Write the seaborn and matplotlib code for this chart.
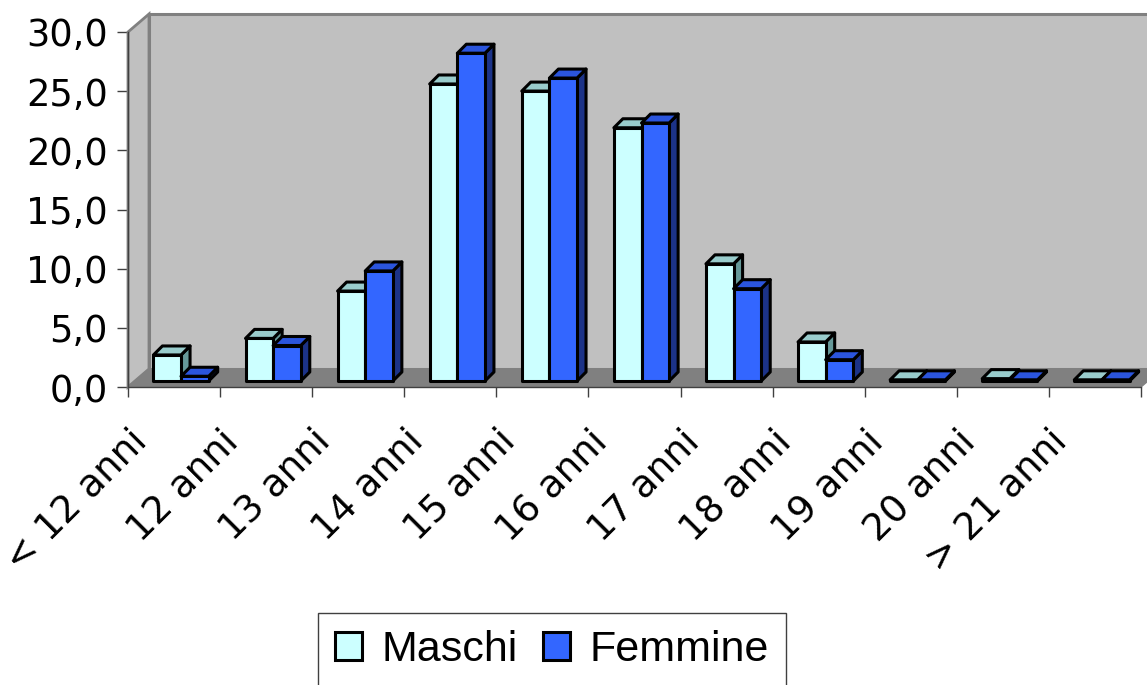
import pandas as pd
import matplotlib.pyplot as plt
import matplotlib.transforms as mtransforms
from matplotlib.patches import Polygon, Rectangle
from matplotlib.ticker import FixedLocator
import seaborn as sns

# Dati (percentuali per fascia di età)
categorie = ["< 12 anni", "12 anni", "13 anni", "14 anni", "15 anni", "16 anni",
             "17 anni", "18 anni", "19 anni", "20 anni", "> 21 anni"]
maschi = [2.2, 3.6, 7.6, 25.1, 24.5, 21.4, 9.9, 3.3, 0.1, 0.2, 0.1]
femmine = [0.4, 3.0, 9.3, 27.7, 25.6, 21.8, 7.8, 1.8, 0.1, 0.1, 0.1]
serie = ["Maschi", "Femmine"]
y_ticks = [0, 5, 10, 15, 20, 25, 30]

df = pd.DataFrame({
    "eta": categorie * 2,
    "sesso": ["Maschi"] * len(maschi) + ["Femmine"] * len(femmine),
    "valore": maschi + femmine,
})

colori_fronte = {"Maschi": "#CCFFFF", "Femmine": "#3366FF"}
colori_top = {"Maschi": "#99CCCC", "Femmine": "#2B55DD"}
colori_lato = {"Maschi": "#669999", "Femmine": "#1C3388"}

sns.set_theme(style="white")
plt.rcParams['font.family'] = ['Liberation Sans', 'DejaVu Sans']
plt.rcParams['text.color'] = 'black'
plt.rcParams['xtick.color'] = 'black'
plt.rcParams['ytick.color'] = 'black'

W, H = 1147, 685
fig = plt.figure(figsize=(W / 100, H / 100), dpi=100)
ax = fig.add_axes([128 / W, (H - 387) / H, (1141 - 128) / W, (387 - 32) / H])
ax.patch.set_visible(False)

sns.barplot(data=df, x="eta", y="valore", hue="sesso", order=categorie,
            hue_order=serie, palette=colori_fronte, saturation=1, width=0.6,
            edgecolor="black", linewidth=2.2, ax=ax)

ax.set_xlim(-0.5, len(categorie) - 0.5)
ax.set_ylim(0, 30)

# profondità "3D" in pixel
PX = 1 / 100
wall_dx, wall_dy = 21, 18
bar_sx, bar_sy = 7, 6
bar_dx, bar_dy = 9, 9
ident = mtransforms.IdentityTransform()


def to_px(x, y, ox=0, oy=0):
    X, Y = ax.transData.transform((x, y))
    return (X + ox, Y + oy)


# parete di fondo, parete laterale e pavimento
x0, x1 = -0.5, len(categorie) - 0.5
back = Rectangle((x0, 0), x1 - x0 + 1, 30, facecolor="#C0C0C0", edgecolor="#808080",
                 linewidth=2.2, zorder=0.5, clip_on=False,
                 transform=ax.transData + mtransforms.ScaledTranslation(
                     wall_dx * PX, wall_dy * PX, fig.dpi_scale_trans))
ax.add_patch(back)
side = Polygon([to_px(x0, 0), to_px(x0, 30), to_px(x0, 30, wall_dx, wall_dy),
                to_px(x0, 0, wall_dx, wall_dy)], closed=True, facecolor="#C0C0C0",
               edgecolor="#808080", linewidth=2, zorder=0.6, clip_on=False, transform=ident)
ax.add_patch(side)
floor = Polygon([to_px(x0, 0), to_px(x1, 0), to_px(x1, 0, wall_dx, wall_dy),
                 to_px(x0, 0, wall_dx, wall_dy)], closed=True, facecolor="#808080",
                edgecolor="#808080", linewidth=1, zorder=0.7, clip_on=False, transform=ident)
ax.add_patch(floor)

# barre: faccia frontale spostata + facce laterale e superiore
bars = list(ax.patches[:2 * len(categorie)])
bars = [b for b in bars if isinstance(b, Rectangle) and b.get_width() > 0]
bars.sort(key=lambda b: b.get_x())
shift = mtransforms.ScaledTranslation(bar_sx * PX, bar_sy * PX, fig.dpi_scale_trans)
for i, b in enumerate(bars):
    bx0, bw, bh = b.get_x(), b.get_width(), b.get_height()
    bx1 = bx0 + bw
    key = "Maschi" if b.get_facecolor()[0] > 0.5 else "Femmine"
    z = 3 + i * 0.01
    b.set_transform(ax.transData + shift)
    b.set_zorder(z + 0.005)
    b.set_clip_on(False)
    b.set_joinstyle("round")
    lato = [to_px(bx1, 0, bar_sx, bar_sy), to_px(bx1, 0, bar_sx + bar_dx, bar_sy + bar_dy),
            to_px(bx1, bh, bar_sx + bar_dx, bar_sy + bar_dy), to_px(bx1, bh, bar_sx, bar_sy)]
    top = [to_px(bx0, bh, bar_sx, bar_sy), to_px(bx1, bh, bar_sx, bar_sy),
           to_px(bx1, bh, bar_sx + bar_dx, bar_sy + bar_dy),
           to_px(bx0, bh, bar_sx + bar_dx, bar_sy + bar_dy)]
    ax.add_patch(Polygon(lato, closed=True, facecolor=colori_lato[key], edgecolor="black",
                         linewidth=2.2, joinstyle="round", zorder=z, clip_on=False, transform=ident))
    ax.add_patch(Polygon(top, closed=True, facecolor=colori_top[key], edgecolor="black",
                         linewidth=2.2, joinstyle="round", zorder=z, clip_on=False, transform=ident))

# assi
for s in ["top", "right"]:
    ax.spines[s].set_visible(False)
for s in ["left", "bottom"]:
    ax.spines[s].set_color("#404040")
    ax.spines[s].set_linewidth(1)
    ax.spines[s].set_zorder(2)

ax.yaxis.set_major_locator(FixedLocator(y_ticks))
ax.set_yticklabels([f"{v:.1f}".replace(".", ",") for v in y_ticks])
ax.tick_params(axis="y", direction="out", length=8, width=1, color="#404040",
               pad=6.5, labelsize=26.5, labelcolor="black", left=True)
for lab in ax.get_yticklabels():
    lab.set_family(['DejaVu Sans'])

ax.xaxis.set_major_locator(FixedLocator([k - 0.5 for k in range(len(categorie) + 1)]))
ax.xaxis.set_minor_locator(FixedLocator(list(range(len(categorie)))))
ax.set_xticklabels([], minor=False)
ax.set_xticklabels(categorie, minor=True)
ax.tick_params(axis="x", which="major", direction="out", length=7.5, width=1,
               color="#404040", bottom=True)
ax.tick_params(axis="x", which="minor", length=0, pad=0, labelsize=27,
               labelcolor="black")
lab_off = mtransforms.ScaledTranslation(-26 * PX, -56 * PX, fig.dpi_scale_trans)
for lab in ax.get_xticklabels(minor=True):
    lab.set_rotation(45)
    lab.set_rotation_mode("anchor")
    lab.set_ha("right")
    lab.set_va("baseline")
    lab.set_family(['DejaVu Sans'])
    lab.set_transform(lab.get_transform() + lab_off)

ax.set_xlabel("")
ax.set_ylabel("")

# legenda
handles, labels = ax.get_legend_handles_labels()
if ax.get_legend() is not None:
    ax.get_legend().remove()
for h in handles:
    h.set_edgecolor("black")
    h.set_linewidth(2.2)
leg = fig.legend(handles, labels, loc="upper left", bbox_to_anchor=(318 / W, 1 - 613 / H),
                 ncol=2, frameon=True, fancybox=False, framealpha=1, fontsize=31,
                 handlelength=0.62, handleheight=0.62, handletextpad=0.45,
                 columnspacing=0.6, borderpad=0.4, borderaxespad=0)
leg.get_frame().set_edgecolor("#404040")
leg.get_frame().set_linewidth(1)

plt.savefig("out.png", dpi=100)
